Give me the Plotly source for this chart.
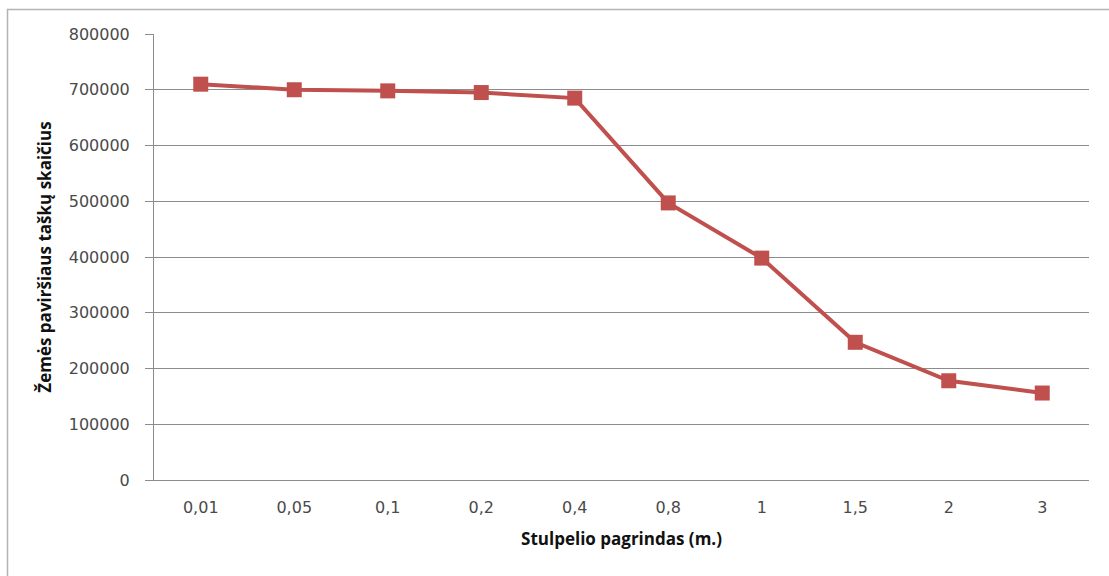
import plotly.graph_objects as go

# Column base size (m) and number of ground-surface points
base_sizes = ["0,01", "0,05", "0,1", "0,2", "0,4", "0,8", "1", "1,5", "2", "3"]
point_counts = [710000, 700000, 698000, 695000, 685000, 497000, 398000, 247000, 178000, 156000]

y_ticks = [0, 100000, 200000, 300000, 400000, 500000, 600000, 700000, 800000]

RED = "#C0504D"
GRID = "#8C8C8C"
TICK_FONT = dict(family="DejaVu Sans", size=16, color="#4A4A4A")
TITLE_FONT = dict(family="Open Sans", size=17, color="#111111")

fig = go.Figure(
    go.Scatter(
        x=base_sizes,
        y=point_counts,
        mode="lines+markers",
        line=dict(color=RED, width=4),
        marker=dict(symbol="square", size=15, color=RED),
        showlegend=False,
    )
)

W, H = 1109, 576
L, R, T, B = 154, 20, 34, 96

fig.update_layout(
    width=W,
    height=H,
    margin=dict(l=L, r=R, t=T, b=B),
    paper_bgcolor="white",
    plot_bgcolor="white",
)

fig.update_xaxes(
    type="category",
    range=[-0.5, len(base_sizes) - 0.5],
    showgrid=False,
    showline=True,
    linecolor=GRID,
    linewidth=1,
    ticks="",
    tickfont=TICK_FONT,
    ticklabelstandoff=13,
    title=dict(text="<b>Stulpelio pagrindas (m.)</b>", font=TITLE_FONT, standoff=16),
)

fig.update_yaxes(
    range=[0, 800000],
    tickvals=y_ticks,
    ticktext=[str(v) for v in y_ticks],
    showgrid=True,
    gridcolor=GRID,
    gridwidth=1,
    showline=True,
    linecolor=GRID,
    linewidth=1,
    ticks="outside",
    ticklen=8,
    tickcolor=GRID,
    tickfont=TICK_FONT,
    ticklabelstandoff=12,
    zeroline=False,
    title=dict(text="<b>Žemės paviršiaus taškų skaičius</b>", font=TITLE_FONT, standoff=12),
)

# Chart-area frame around the whole figure
pw = W - L - R
ph = H - T - B
fig.add_shape(
    type="rect",
    xref="paper", yref="paper",
    x0=(7.5 - L) / pw, x1=(W + 5 - L) / pw,
    y0=-(H + 5 - (H - B)) / ph, y1=1 + (T - 9.5) / ph,
    line=dict(color="#B4B4B4", width=1.5),
    fillcolor="rgba(0,0,0,0)",
    layer="below",
)

fig.write_html("out.html")
